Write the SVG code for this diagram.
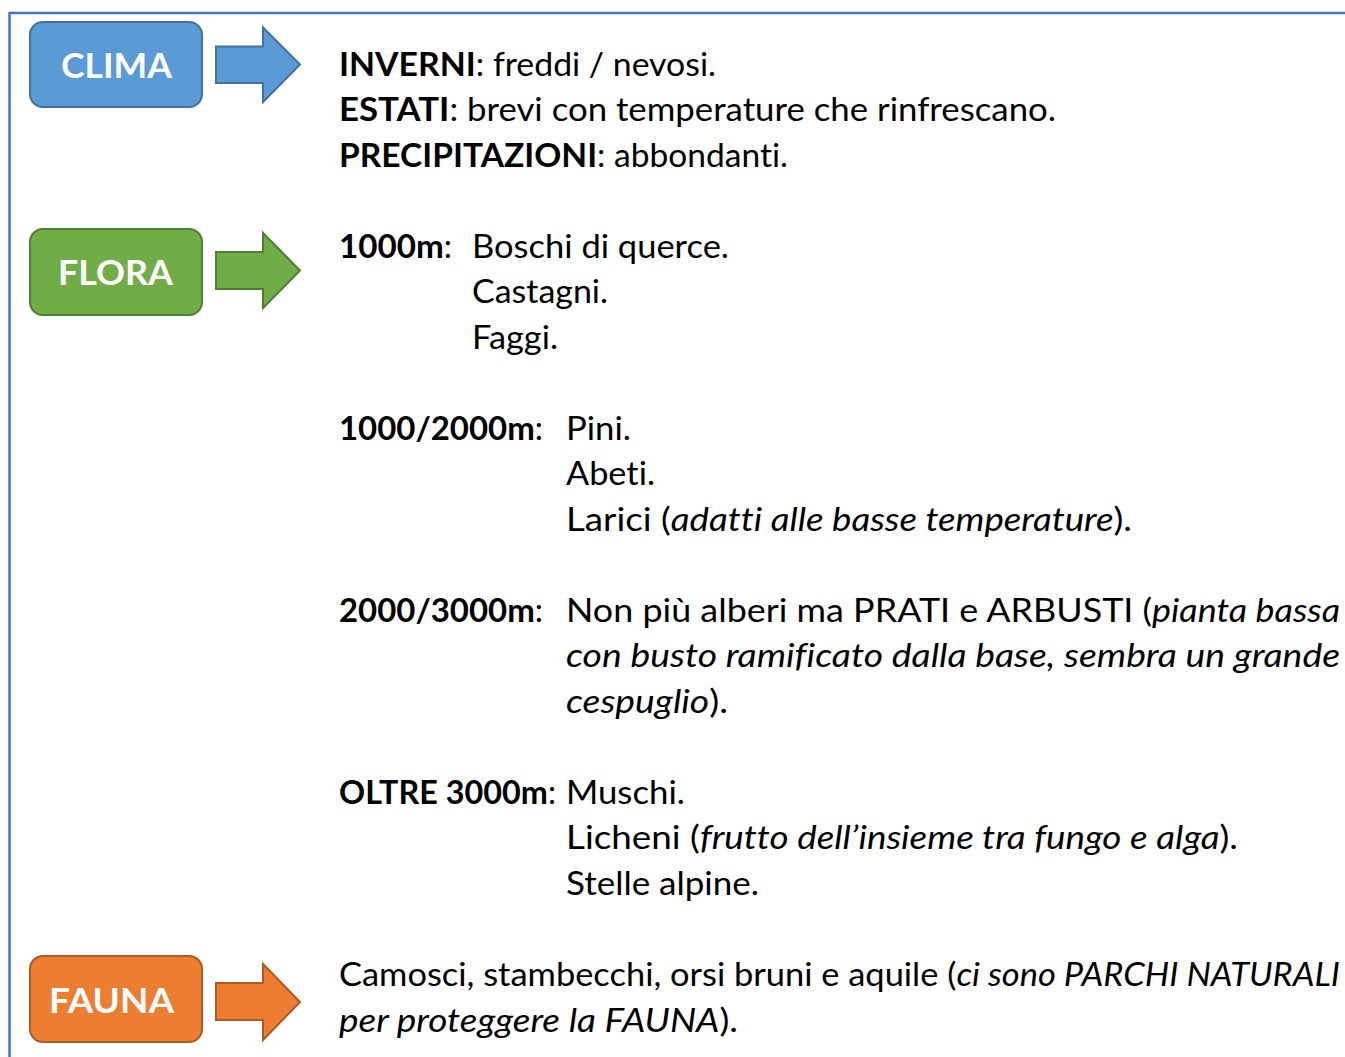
<svg xmlns="http://www.w3.org/2000/svg" width="1345" height="1057" viewBox="0 0 1345 1057">
<style>
.frame{stroke:#4472C4;stroke-width:2.5;fill:none}
.lbl{font-family:Lato,"Liberation Sans",sans-serif;font-weight:bold;font-size:34px;fill:#ffffff;font-variant-ligatures:none}
.t{font-family:Lato,"Liberation Sans",sans-serif;font-size:32px;fill:#000000;font-variant-ligatures:none;font-feature-settings:"liga" 0,"clig" 0}
.b{font-weight:bold}
.i{font-style:italic}
.clima{fill:#5B9BD5;stroke:#41719C;stroke-width:2}
.flora{fill:#70AD47;stroke:#507E32;stroke-width:2}
.fauna{fill:#ED7D31;stroke:#AE5A21;stroke-width:2}
</style>
<rect width="1345" height="1057" fill="#ffffff"/>
<g id="frame">
<line class="frame" x1="9" y1="13" x2="1345" y2="13"/>
<line class="frame" x1="9.5" y1="12" x2="9.5" y2="1057"/>
</g>
<g id="node-clima">
<rect class="clima" x="30" y="22" width="172" height="85" rx="13"/>
<text class="lbl" x="61" y="77.5" textLength="111" lengthAdjust="spacingAndGlyphs">CLIMA</text>
</g>
<g id="node-flora">
<rect class="flora" x="30" y="229" width="172" height="86" rx="13"/>
<text class="lbl" x="58" y="284.5" textLength="115" lengthAdjust="spacingAndGlyphs">FLORA</text>
</g>
<g id="node-fauna">
<rect class="fauna" x="30" y="956" width="172" height="86" rx="13"/>
<text class="lbl" x="49" y="1012.5" textLength="125" lengthAdjust="spacingAndGlyphs">FAUNA</text>
</g>
<g id="connectors">
<polygon class="clima" points="216,46.5 263,46.5 263,27.5 300,64.5 263,102 263,83 216,83"/>
<polygon class="flora" points="216,252 263,252 263,233 300,270.5 263,308 263,289 216,289"/>
<polygon class="fauna" points="216,983 263,983 263,964 300,1002 263,1040 263,1020 216,1020"/>
</g>
<g id="text-clima">
<text class="t" x="339" y="75.5" textLength="377" lengthAdjust="spacingAndGlyphs"><tspan class="b">INVERNI</tspan>: freddi / nevosi.</text>
<text class="t" x="339" y="121" textLength="717" lengthAdjust="spacingAndGlyphs"><tspan class="b">ESTATI</tspan>: brevi con temperature che rinfrescano.</text>
<text class="t" x="339" y="166.5" textLength="449" lengthAdjust="spacingAndGlyphs"><tspan class="b">PRECIPITAZIONI</tspan>: abbondanti.</text>
</g>
<g id="text-flora">
<text class="t" x="339" y="257.5" textLength="113" lengthAdjust="spacingAndGlyphs"><tspan class="b">1000m</tspan>:</text>
<text class="t" x="472" y="257.5" textLength="257" lengthAdjust="spacingAndGlyphs">Boschi di querce.</text>
<text class="t" x="472" y="303" textLength="136" lengthAdjust="spacingAndGlyphs">Castagni.</text>
<text class="t" x="472" y="348.5" textLength="86" lengthAdjust="spacingAndGlyphs">Faggi.</text>
<text class="t" x="339" y="439.5" textLength="204" lengthAdjust="spacingAndGlyphs"><tspan class="b">1000/2000m</tspan>:</text>
<text class="t" x="566" y="439.5" textLength="65" lengthAdjust="spacingAndGlyphs">Pini.</text>
<text class="t" x="566" y="485" textLength="89" lengthAdjust="spacingAndGlyphs">Abeti.</text>
<text class="t" x="566" y="530.5" textLength="566" lengthAdjust="spacingAndGlyphs">Larici (<tspan class="i">adatti alle basse temperature</tspan>).</text>
<text class="t" x="339" y="621.5" textLength="204" lengthAdjust="spacingAndGlyphs"><tspan class="b">2000/3000m</tspan>:</text>
<text class="t" x="566" y="621.5" textLength="774" lengthAdjust="spacingAndGlyphs">Non più alberi ma PRATI e ARBUSTI (<tspan class="i">pianta bassa</tspan></text>
<text class="t i" x="566" y="667" textLength="774" lengthAdjust="spacingAndGlyphs">con busto ramificato dalla base, sembra un grande</text>
<text class="t" x="566" y="712.5" textLength="162" lengthAdjust="spacingAndGlyphs"><tspan class="i">cespuglio</tspan>).</text>
<text class="t" x="339" y="803.5" textLength="217" lengthAdjust="spacingAndGlyphs"><tspan class="b">OLTRE 3000m</tspan>:</text>
<text class="t" x="566" y="803.5" textLength="119" lengthAdjust="spacingAndGlyphs">Muschi.</text>
<text class="t" x="566" y="849" textLength="672" lengthAdjust="spacingAndGlyphs">Licheni (<tspan class="i">frutto dell’insieme tra fungo e alga</tspan>).</text>
<text class="t" x="566" y="894.5" textLength="193" lengthAdjust="spacingAndGlyphs">Stelle alpine.</text>
</g>
<g id="text-fauna">
<text class="t" x="339" y="986" textLength="1001" lengthAdjust="spacingAndGlyphs">Camosci, stambecchi, orsi bruni e aquile (<tspan class="i">ci sono PARCHI NATURALI</tspan></text>
<text class="t" x="339" y="1031.5" textLength="399" lengthAdjust="spacingAndGlyphs"><tspan class="i">per proteggere la FAUNA</tspan>).</text>
</g>
</svg>
